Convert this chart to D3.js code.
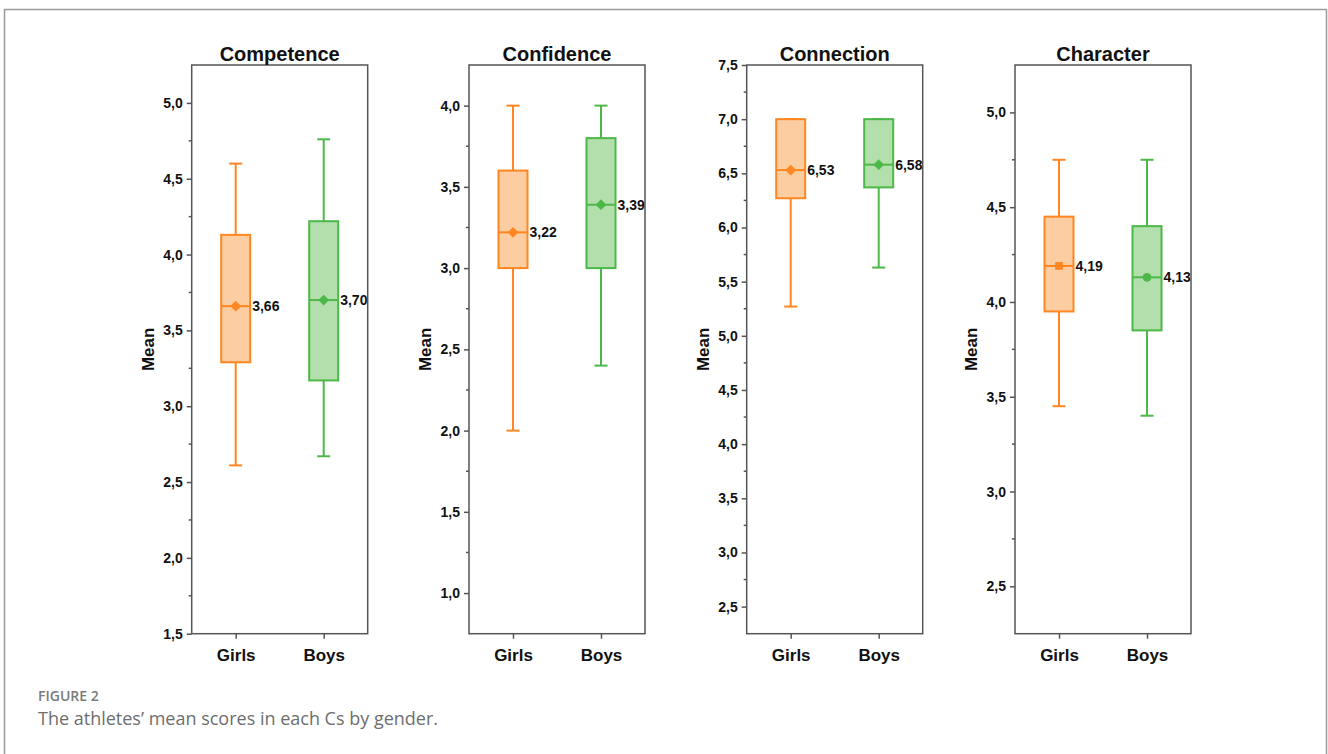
<!DOCTYPE html>
<html>
<head>
<meta charset="utf-8">
<script src="https://cdn.jsdelivr.net/npm/d3@7"></script>
<style>
  html, body { margin: 0; padding: 0; background: #fff; }
  svg { display: block; }
</style>
</head>
<body>
<svg id="chart" width="1328" height="754"></svg>
<script>
// Four Cs, scores by gender
const panels = ["Competence", "Confidence", "Connection", "Character"];
const categories = ["Girls", "Boys"];

const girlsLow  = [2.61, 2.00, 5.27, 3.45];
const girlsQ1   = [3.29, 3.00, 6.27, 3.95];
const girlsMean = [3.66, 3.22, 6.53, 4.19];
const girlsQ3   = [4.13, 3.60, 7.00, 4.45];
const girlsHigh = [4.60, 4.00, 7.00, 4.75];

const boysLow  = [2.67, 2.40, 5.63, 3.40];
const boysQ1   = [3.17, 3.00, 6.37, 3.85];
const boysMean = [3.70, 3.39, 6.58, 4.13];
const boysQ3   = [4.22, 3.80, 7.00, 4.40];
const boysHigh = [4.76, 4.00, 7.00, 4.75];

const yMin = [1.5, 0.75, 2.25, 2.25];
const yMax = [5.25, 4.25, 7.5, 5.25];
const yTicks = [
  [1.5, 2.0, 2.5, 3.0, 3.5, 4.0, 4.5, 5.0],
  [1.0, 1.5, 2.0, 2.5, 3.0, 3.5, 4.0],
  [2.5, 3.0, 3.5, 4.0, 4.5, 5.0, 5.5, 6.0, 6.5, 7.0, 7.5],
  [2.5, 3.0, 3.5, 4.0, 4.5, 5.0]
];
// mean marker shapes per panel: [girls, boys]
const meanShapes = [
  ["diamond", "diamond"], ["diamond", "diamond"],
  ["diamond", "diamond"], ["square", "circle"]
];

// layout
const panelLeft = [191.7, 469, 746.7, 1015];
const plotW = 176;
const plotTop = 65;
const plotBottom = 633.7;

const stroke = { Girls: "#ff8620", Boys: "#4cb848" };
const fill   = { Girls: "#fbcda0", Boys: "#b3dfac" };
const axisColor = "#555";
const font = "Liberation Sans, Arial, sans-serif";
const fmt = v => d3.format(".1f")(v).replace(".", ",");
const fmt2 = v => d3.format(".2f")(v).replace(".", ",");

const svg = d3.select("#chart");

// outer figure frame
svg.append("rect")
  .attr("x", 4.5).attr("y", 9.5)
  .attr("width", 1322).attr("height", 800)
  .attr("fill", "none").attr("stroke", "#9a9a9a").attr("stroke-width", 1.5);

panels.forEach((name, i) => {
  const x = d3.scalePoint().domain(categories)
    .range([panelLeft[i], panelLeft[i] + plotW]).padding(0.5);
  const y = d3.scaleLinear().domain([yMin[i], yMax[i]]).range([plotBottom, plotTop]);
  const g = svg.append("g");

  const rows = [
    { cat: "Girls", low: girlsLow[i], q1: girlsQ1[i], mean: girlsMean[i], q3: girlsQ3[i], high: girlsHigh[i], shape: meanShapes[i][0] },
    { cat: "Boys",  low: boysLow[i],  q1: boysQ1[i],  mean: boysMean[i],  q3: boysQ3[i],  high: boysHigh[i],  shape: meanShapes[i][1] }
  ];

  const boxW = 29, capW = 13;

  rows.forEach(r => {
    const cx = x(r.cat);
    const s = stroke[r.cat];
    // whiskers
    g.append("line").attr("x1", cx).attr("x2", cx)
      .attr("y1", y(r.high)).attr("y2", y(r.low))
      .attr("stroke", s).attr("stroke-width", 2);
    [r.high, r.low].forEach(v => {
      g.append("line").attr("x1", cx - capW / 2).attr("x2", cx + capW / 2)
        .attr("y1", y(v)).attr("y2", y(v))
        .attr("stroke", s).attr("stroke-width", 2);
    });
    // box
    g.append("rect")
      .attr("x", cx - boxW / 2).attr("y", y(r.q3))
      .attr("width", boxW).attr("height", y(r.q1) - y(r.q3))
      .attr("fill", fill[r.cat]).attr("stroke", s).attr("stroke-width", 2);
    // mean line
    g.append("line").attr("x1", cx - boxW / 2).attr("x2", cx + boxW / 2)
      .attr("y1", y(r.mean)).attr("y2", y(r.mean))
      .attr("stroke", s).attr("stroke-width", 2);
    // mean marker
    let sym, rot = 0;
    if (r.shape === "diamond") { sym = d3.symbol(d3.symbolSquare, 58); rot = 45; }
    else if (r.shape === "square") { sym = d3.symbol(d3.symbolSquare, 60); }
    else { sym = d3.symbol(d3.symbolCircle, 60); }
    g.append("path").attr("d", sym())
      .attr("transform", `translate(${cx},${y(r.mean)}) rotate(${rot})`)
      .attr("fill", s);
    // mean value label
    g.append("text")
      .attr("x", cx + boxW / 2 + 2).attr("y", y(r.mean))
      .attr("dy", "0.35em")
      .attr("font-family", font)
      .attr("font-weight", "bold").attr("font-size", 14)
      .attr("fill", "#111")
      .text(fmt2(r.mean));
  });

  // frame
  g.append("rect")
    .attr("x", panelLeft[i]).attr("y", plotTop)
    .attr("width", plotW).attr("height", plotBottom - plotTop)
    .attr("fill", "none").attr("stroke", axisColor).attr("stroke-width", 1.5);

  // y axis: major ticks with labels
  const yAxis = d3.axisLeft(y).tickValues(yTicks[i]).tickFormat(fmt)
    .tickSize(5).tickPadding(4);
  const ya = g.append("g").attr("transform", `translate(${panelLeft[i]},0)`).call(yAxis);
  ya.attr("font-family", font).attr("font-size", 14);
  ya.select(".domain").remove();
  ya.selectAll(".tick line").attr("stroke", axisColor).attr("stroke-width", 1.5);
  ya.selectAll("text")
    .attr("font-weight", "bold").attr("fill", "#111");

  // minor ticks between majors
  const step = 0.5;
  const minors = d3.range(Math.ceil(yMin[i] / 0.25) * 0.25, yMax[i] + 1e-9, 0.25)
    .filter(v => Math.abs(v / step - Math.round(v / step)) > 1e-6)
    .filter(v => v > yMin[i] + 1e-9 && v < yMax[i] - 1e-9);
  g.selectAll(".minor").data(minors).enter().append("line")
    .attr("x1", panelLeft[i] - 3).attr("x2", panelLeft[i])
    .attr("y1", d => y(d)).attr("y2", d => y(d))
    .attr("stroke", axisColor).attr("stroke-width", 1.5);

  // x axis
  const xAxis = d3.axisBottom(x).tickSize(5).tickPadding(10);
  const xa = g.append("g").attr("transform", `translate(0,${plotBottom})`).call(xAxis);
  xa.attr("font-family", font).attr("font-size", 17);
  xa.select(".domain").remove();
  xa.selectAll(".tick line").attr("stroke", axisColor).attr("stroke-width", 1.5);
  xa.selectAll("text")
    .attr("font-weight", "bold").attr("fill", "#111");

  // title
  g.append("text")
    .attr("x", panelLeft[i] + plotW / 2).attr("y", 61)
    .attr("text-anchor", "middle")
    .attr("font-family", font)
    .attr("font-weight", "bold").attr("font-size", 20).attr("fill", "#111")
    .text(name);

  // y label
  g.append("text")
    .attr("transform", `translate(${panelLeft[i] - 44},${(plotTop + plotBottom) / 2}) rotate(-90)`)
    .attr("text-anchor", "middle").attr("dy", "0.35em")
    .attr("font-family", font)
    .attr("font-weight", "bold").attr("font-size", 17).attr("fill", "#111")
    .text("Mean");
});

// caption
svg.append("text")
  .attr("x", 38).attr("y", 701)
  .attr("font-family", "Open Sans, sans-serif")
  .attr("font-size", 14).attr("font-weight", 600)
  .attr("fill", "#7a7a7a")
  .text("FIGURE 2");
svg.append("text")
  .attr("x", 38).attr("y", 725)
  .attr("font-family", "Open Sans, sans-serif")
  .attr("font-size", 18).attr("fill", "#6e6e6e")
  .text("The athletes\u2019 mean scores in each Cs by gender.");
</script>
</body>
</html>
